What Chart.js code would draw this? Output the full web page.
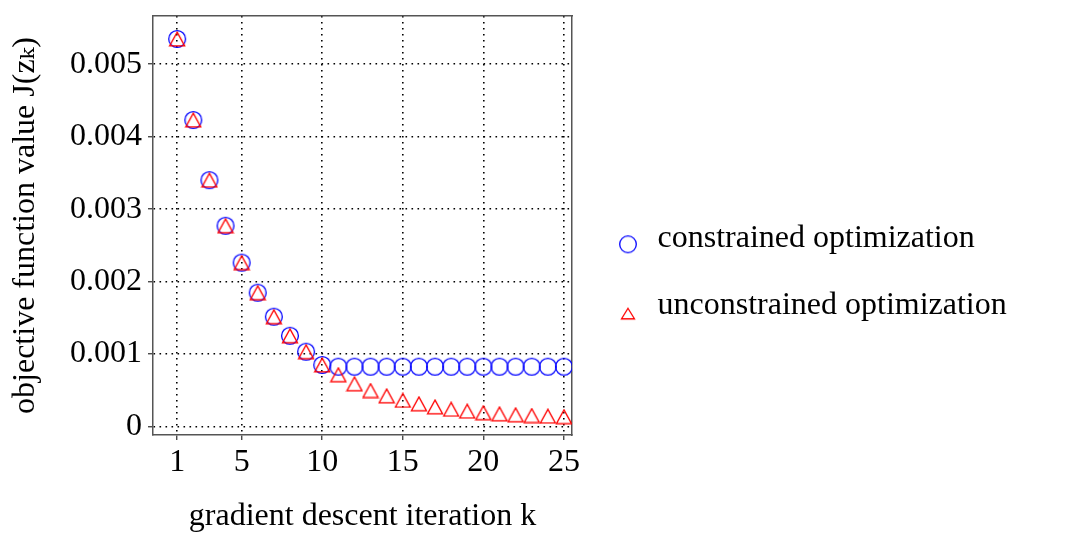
<!DOCTYPE html>
<html>
<head>
<meta charset="utf-8">
<script src="https://cdn.jsdelivr.net/npm/chart.js@4"></script>
<style>
  body { margin: 0; background: #fff; }
  #wrap { width: 1067px; height: 540px; }
</style>
</head>
<body>
<div id="wrap"><canvas id="chart" width="1067" height="540"></canvas></div>
<script>
// Datos
const iterations = [1, 2, 3, 4, 5, 6, 7, 8, 9, 10, 11, 12, 13, 14, 15, 16, 17, 18, 19, 20, 21, 22, 23, 24, 25];
const constrained = [0.00535, 0.00423, 0.00340, 0.00277, 0.00226, 0.001845, 0.001514, 0.00125, 0.00103, 0.000847,
  0.000823, 0.000823, 0.000823, 0.000823, 0.000823, 0.000823, 0.000823, 0.000823, 0.000823, 0.000823,
  0.000823, 0.000823, 0.000823, 0.000823, 0.000823];
const unconstrained = [0.00535, 0.00423, 0.00340, 0.00277, 0.00226, 0.001845, 0.001514, 0.00125, 0.00103, 0.000847,
  0.000713, 0.000587, 0.000494, 0.000421, 0.000359, 0.000311, 0.000269, 0.000235, 0.000209, 0.000188,
  0.000172, 0.000159, 0.000149, 0.000140, 0.000133];
const seriesLabels = ['constrained optimization', 'unconstrained optimization'];
const xTicks = [1, 5, 10, 15, 20, 25];
const yTicks = [0, 0.001, 0.002, 0.003, 0.004, 0.005];

const FONT = "'Liberation Serif', 'DejaVu Serif', serif";
const FONT_SIZE = 32;

// Marcadores dibujados en un canvas (circulo y triangulo centrados)
function circleMarker(w, h, cx, cy, r, color) {
    const c = document.createElement('canvas');
    c.width = w; c.height = h;
    const ctx = c.getContext('2d');
    ctx.strokeStyle = color;
    ctx.lineWidth = 1.3;
    ctx.beginPath();
    ctx.arc(cx, cy, r, 0, Math.PI * 2);
    ctx.stroke();
    return c;
}

function triangleMarker(w, h, cx, cy, tw, th, color) {
    const c = document.createElement('canvas');
    c.width = w; c.height = h;
    const ctx = c.getContext('2d');
    ctx.strokeStyle = color;
    ctx.lineWidth = 1.3;
    ctx.beginPath();
    ctx.moveTo(cx, cy - th / 2);
    ctx.lineTo(cx + tw / 2, cy + th / 2);
    ctx.lineTo(cx - tw / 2, cy + th / 2);
    ctx.closePath();
    ctx.stroke();
    return c;
}

const blueCircle = circleMarker(20, 20, 10, 10, 8.4, '#0000ff');
const redTriangle = triangleMarker(18, 16, 9, 8, 15, 13.7, '#ff0000');
// en la leyenda van un poco mas abajo que el centro del texto
const legendCircle = circleMarker(20, 32, 10, 22, 8.3, '#0000ff');
const legendTriangle = triangleMarker(16, 40, 8, 28.5, 13, 10.5, '#ff0000');

// ancho del texto mas largo de la leyenda para ajustar el margen derecho
const measure = document.createElement('canvas').getContext('2d');
measure.font = FONT_SIZE + 'px ' + FONT;
const longest = Math.max(...seriesLabels.map(t => measure.measureText(t).width));
const legendPad = 34.8;
const legendLeft = 579.7;
// la leyenda suma 10px extra a su ancho
const rightPad = 1067 - (legendLeft + legendPad + 27 + FONT_SIZE / 2 + longest + 10);

const gridOpts = {
    color: '#000',
    lineWidth: 1.6,
    tickColor: '#000',
    tickWidth: 1,
    tickLength: 5,
    tickBorderDash: []
};
const borderOpts = { color: '#555', width: 1.5, dash: [1.6, 4.4] };

// sin margen extra por media etiqueta en los extremos
function noLabelPadding(s) {
    s.paddingTop = 0; s.paddingBottom = 0;
    s.paddingLeft = 0; s.paddingRight = 0;
}

const ctx = document.getElementById('chart').getContext('2d');
new Chart(ctx, {
    type: 'scatter',
    data: {
        datasets: [{
            label: seriesLabels[0],
            data: iterations.map((k, i) => ({ x: k, y: constrained[i] })),
            pointStyle: blueCircle,
            borderColor: '#0000ff',
            backgroundColor: 'transparent',
            order: 1
        }, {
            label: seriesLabels[1],
            data: iterations.map((k, i) => ({ x: k, y: unconstrained[i] })),
            pointStyle: redTriangle,
            borderColor: '#ff0000',
            backgroundColor: 'transparent',
            order: 0
        }]
    },
    options: {
        responsive: false,
        animation: false,
        devicePixelRatio: 1,
        layout: { padding: { top: 3.4, left: 0, bottom: 0, right: rightPad } },
        plugins: {
            tooltip: { enabled: false },
            legend: {
                position: 'right',
                align: 'center',
                maxWidth: 700,
                labels: {
                    usePointStyle: true,
                    pointStyleWidth: 27,
                    padding: legendPad,
                    color: '#000',
                    font: { family: FONT, size: FONT_SIZE },
                    sort: (a, b) => a.datasetIndex - b.datasetIndex,
                    generateLabels: (chart) => {
                        const items = Chart.defaults.plugins.legend.labels.generateLabels(chart);
                        items.forEach(it => {
                            it.pointStyle = it.datasetIndex === 0 ? legendCircle : legendTriangle;
                        });
                        return items;
                    }
                }
            }
        },
        scales: {
            x: {
                type: 'linear',
                position: 'bottom',
                min: -0.5,
                max: 25.5,
                afterBuildTicks: s => { s.ticks = xTicks.map(v => ({ value: v })); },
                afterFit: s => { s.height = 105; noLabelPadding(s); },
                grid: gridOpts,
                border: borderOpts,
                ticks: {
                    color: '#000',
                    padding: 3,
                    maxRotation: 0,
                    font: { family: FONT, size: FONT_SIZE },
                    callback: v => String(v)
                },
                title: {
                    display: true,
                    text: 'gradient descent iteration k',
                    color: '#000',
                    font: { family: FONT, size: FONT_SIZE },
                    padding: { top: 0, bottom: 4 }
                }
            },
            y: {
                type: 'linear',
                position: 'left',
                min: -0.00012,
                max: 0.005667,
                afterBuildTicks: s => { s.ticks = yTicks.map(v => ({ value: v })); },
                afterFit: s => { s.width = 153; noLabelPadding(s); },
                grid: gridOpts,
                border: borderOpts,
                ticks: {
                    color: '#000',
                    padding: 6,
                    font: { family: FONT, size: FONT_SIZE },
                    callback: v => v === 0 ? '0' : v.toFixed(3)
                },
                title: {
                    display: true,
                    text: 'objective function value J(zₖ)',
                    color: '#000',
                    font: { family: FONT, size: FONT_SIZE },
                    padding: { top: 6, bottom: 0 }
                }
            },
            // ejes sin etiquetas para cerrar el marco arriba y a la derecha
            x2: {
                type: 'linear',
                position: 'top',
                afterFit: s => { s.height = 12.6; noLabelPadding(s); },
                grid: { display: false },
                ticks: { display: false },
                border: { color: '#555', width: 1.5 }
            },
            y2: {
                type: 'linear',
                position: 'right',
                afterFit: s => { s.width = 7.7; noLabelPadding(s); },
                grid: { display: false },
                ticks: { display: false },
                border: { color: '#555', width: 1.5 }
            }
        }
    }
});
</script>
</body>
</html>
